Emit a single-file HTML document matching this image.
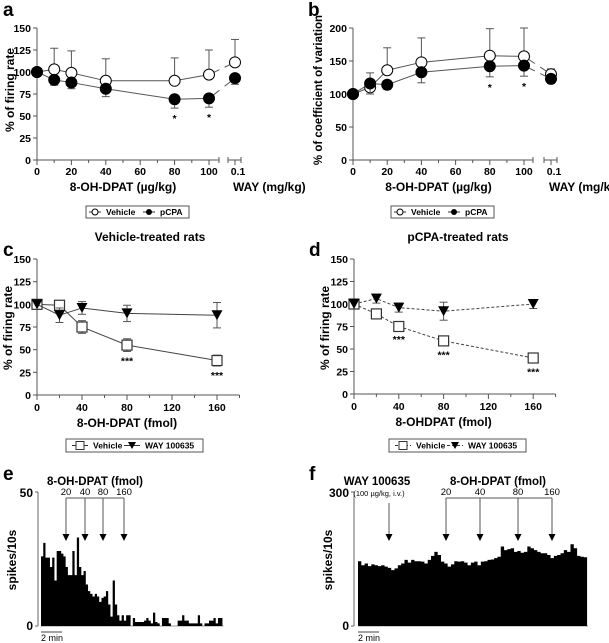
<!DOCTYPE html>
<html><head><meta charset="utf-8"><style>
body{margin:0;background:#fff}
svg{display:block;font-family:"Liberation Sans",Arial,sans-serif}
.t{font-size:10.5px;font-weight:bold}
.ttl{font-size:12px;font-weight:bold}
.let{font-size:19px;font-weight:bold}
</style></head><body>
<svg id="fig" width="609" height="643" viewBox="0 0 609 643"></svg>
<script>
// Panel a: firing rate
const aDoses=[0,10,20,40,80,100];
const aVeh=[100,103,99,90,90,97];
const aVehErr=[0,24,25,25,26,28];
const aVehWay=111, aVehWayErr=26;
const aPcpa=[100,91,88,81,69,70];
const aPcpaErr=[0,6,7,9,10,10];
const aPcpaWay=93, aPcpaWayErr=7;
const aStars=[80,100];
// Panel b: coefficient of variation
const bVeh=[100,110,136,148,158,157];
const bVehErr=[0,0,34,37,41,43];
const bVehWay=130, bVehWayErr=8;
const bPcpa=[100,116,114,133,142,143];
const bPcpaErr=[0,16,7,16,16,16];
const bPcpaWay=123, bPcpaWayErr=7;
const bStars=[80,100];
// Panel c / d
const cdDoses=[0,20,40,80,160];
const cVeh=[100,99,75,55,38];
const cVehErr=[0,5,7,7,6];
const cWay=[100,88,96,90,88];
const cWayErr=[0,8,7,9,14];
const cStars=[80,160];
const dVeh=[100,89,75,59,40];
const dVehErr=[0,2,4,5,5];
const dWay=[100,106,96,92,100];
const dWayErr=[0,5,5,10,5];
const dStars=[40,80,160];
const cdTicks=[0,40,80,120,160];
const yTicks150=[0,25,50,75,100,125,150];
// Panel e histogram (spikes/10s)
const eCounts=[26,31,25.5,25.5,22,25.5,17,28,28,27,26,22,19,19,28,19,33,22,19,20.5,15.5,13,12,11,12,11,9,10.5,11,13,8,3.5,17,8,4,2,4,2,4,4,0,3,1.5,1.5,1.5,1.5,2,3,2,1,5,1.5,1,0,3,3,3,1,0,0,0,2,2,4,2,2,1,1,1,1,4,1,0,1,1,2,2,3,1,3,3];
const eArrows=["20","40","80","160"];
// Panel f histogram
const fCounts=[145,136,140,134,138,136,134,136,133,130,125,129,136,140,148,142,148,145,145,144,140,148,157,166,159,144,140,133,138,145,144,145,142,136,142,144,136,144,145,148,149,152,155,178,170,172,174,166,168,164,166,178,174,170,166,163,163,159,152,157,159,163,170,166,183,174,157,155,154];
const fArrows=["20","40","80","160"];

const svg=document.getElementById('fig');
const NS='http://www.w3.org/2000/svg';
function mk(tag,attrs,parent){const e=document.createElementNS(NS,tag);for(const k in attrs)e.setAttribute(k,attrs[k]);(parent||svg).appendChild(e);return e;}
function txt(x,y,s,cls,anchor,parent,fs,fw){const e=mk('text',{x:x,y:y,class:cls||'t','text-anchor':anchor||'middle'},parent);e.textContent=s;if(fs)e.style.fontSize=fs+'px';if(fw)e.style.fontWeight=fw;return e;}
function line(x1,y1,x2,y2,p,extra){const a={x1:x1,y1:y1,x2:x2,y2:y2,stroke:'#333','stroke-width':1};Object.assign(a,extra||{});return mk('line',a,p);}
function group(name){const g=mk('g',{});return g;}
function circle(x,y,filled,p){return mk('circle',{cx:x,cy:y,r:5.5,fill:filled?'#000':'#fff',stroke:'#000','stroke-width':1},p);}
function square(x,y,p){return mk('rect',{x:x-5,y:y-5,width:10,height:10,fill:'#fff',stroke:'#333','stroke-width':1.2},p);}
function tri(x,y,p){return mk('path',{d:`M${x-5.5},${y-5}L${x+5.5},${y-5}L${x},${y+5}Z`,fill:'#000'},p);}
function errbar(x,y1,y2,p){line(x,y1,x,y2,p,{stroke:'#555'});line(x-4,y2,x+4,y2,p,{stroke:'#555'});}
function yAxis(g,x,ticks,ys,top,bottom,title,tx,ty,fs){
  line(x,top,x,bottom,g,{stroke:'#555'});
  ticks.forEach(t=>{line(x-4,ys(t),x,ys(t),g,{stroke:'#555'});txt(x-6,ys(t)+4,String(t),'t','end',g);});
  const tt=txt(tx,ty,title,'ttl','middle',g,fs);tt.setAttribute('transform',`rotate(-90 ${tx} ${ty})`);
}
function legend(g,x,y,w,h,items){
  mk('rect',{x:x,y:y,width:w,height:h,fill:'#fff',stroke:'#555','stroke-width':1},g);
  items.forEach(it=>{
    const cy=y+h/2;line(it.x-it.hw,cy,it.x+it.hw,cy,g,{stroke:'#333','stroke-dasharray':it.dash||''});
    it.sym(it.x,cy);txt(it.x+it.hw+5,cy+3,it.label,'t','start',g,8.5);
  });
}

// ---------- Panels a & b ----------
function panelAB(o){
  const g=group(o.name);
  txt(o.letX,16,o.letter,'let','start',g);
  yAxis(g,o.x0,o.yt,o.ys,o.ys(o.yt[o.yt.length-1]),o.ys(0),o.ytitle,o.ytx,o.yty,o.yfs);
  const by=o.ys(0);
  line(o.x0,by,o.axEnd,by,g,{stroke:'#555'});
  for(let v=0;v<=110;v+=10){const X=o.xs(v);if(X<=o.axEnd+0.5)line(X,by,X,by+(v%20===0?5:3),g,{stroke:'#555'});}
  line(o.axEnd,by-3,o.axEnd,by+3,g,{stroke:'#555'});
  line(o.wayX-7,by,o.wayX+6,by,g,{stroke:'#555'});
  line(o.wayX-7,by-3,o.wayX-7,by+3,g,{stroke:'#555'});line(o.wayX,by,o.wayX,by+5,g,{stroke:'#555'});line(o.wayX+6,by-3,o.wayX+6,by+3,g,{stroke:'#555'});
  [0,20,40,60,80,100].forEach(v=>txt(o.xs(v),by+15,String(v),'t','middle',g));
  txt(o.wayX+3,by+15,'0.1','t','middle',g);
  txt(o.xs(50),by+31,'8-OH-DPAT (µg/kg)','ttl','middle',g);
  txt(o.wayX-2,by+31,'WAY (mg/kg)','ttl','start',g);
  const series=[{v:o.veh,e:o.vehErr,w:o.vehWay,we:o.vehWayErr,f:false,up:true},{v:o.pc,e:o.pcErr,w:o.pcWay,we:o.pcWayErr,f:true,up:false}];
  series.forEach((s,si)=>{
    const sg=group(si?'pcpa-series':'vehicle-series');g.appendChild(sg);
    const pts=aDoses.map((d,i)=>[o.xs(d),o.ys(s.v[i])]);
    mk('polyline',{points:pts.map(p=>p.join(',')).join(' '),fill:'none',stroke:'#555','stroke-width':1},sg);
    const last=pts[pts.length-1],wp=[o.wayX,o.ys(s.w)];
    const mx=(last[0]+wp[0])/2,my=(last[1]+wp[1])/2,dx=wp[0]-last[0],dy=wp[1]-last[1];
    line(last[0],last[1],mx-dx*0.1,my-dy*0.1,sg,{stroke:'#555'});line(mx+dx*0.1,my+dy*0.1,wp[0],wp[1],sg,{stroke:'#555'});
    aDoses.forEach((d,i)=>{if(s.e[i]>0)errbar(o.xs(d),o.ys(s.v[i]),o.ys(s.v[i]+(s.up?s.e[i]:-s.e[i])),sg);});
    if(si===1&&o.pcUpErr)o.pcUpErr.forEach((e,i)=>{if(e>0)errbar(o.xs(aDoses[i]),o.ys(s.v[i]),o.ys(s.v[i]+e),sg);});
    errbar(o.wayX,wp[1],o.ys(s.w+(s.up?s.we:-s.we)),sg);
    pts.forEach(p=>circle(p[0],p[1],s.f,sg));circle(wp[0],wp[1],s.f,sg);
  });
  o.stars.forEach(d=>{const i=aDoses.indexOf(d);txt(o.xs(d),o.ys(o.pc[i]-o.pcErr[i])+14,'*','t','middle',g);});
  legend(g,o.legX,206,103,12,[{x:o.legX+9,hw:6,label:'Vehicle',sym:(x,y)=>mk('circle',{cx:x,cy:y,r:3,fill:'#fff',stroke:'#000'},g)},{x:o.legX+63,hw:6,label:'pCPA',sym:(x,y)=>mk('circle',{cx:x,cy:y,r:3,fill:'#000'},g)}]);
}
panelAB({name:'panel-a',letter:'a',letX:3,x0:37,xs:v=>37+v*1.72,ys:v=>160-v*0.88,yt:[0,25,50,75,100,125,150],axEnd:219,wayX:235,ytx:14,yty:90,
  ytitle:'% of firing rate',veh:aVeh,vehErr:aVehErr,vehWay:aVehWay,vehWayErr:aVehWayErr,pc:aPcpa,pcErr:aPcpaErr,pcWay:aPcpaWay,pcWayErr:aPcpaWayErr,stars:aStars,legX:86});
panelAB({name:'panel-b',letter:'b',letX:308,x0:353,xs:v=>353+v*1.71,ys:v=>160-v*0.66,yt:[0,50,100,150,200],axEnd:533,wayX:551,ytx:322,yty:90,yfs:11.5,
  ytitle:'% of coefficient of variation',veh:bVeh,vehErr:bVehErr,vehWay:bVehWay,vehWayErr:bVehWayErr,pc:bPcpa,pcErr:bPcpaErr,pcWay:bPcpaWay,pcWayErr:bPcpaWayErr,stars:bStars,legX:391,
  pcUpErr:[0,16,0,0,0,0]});

// ---------- Panels c & d ----------
function panelCD(o){
  const g=group(o.name);
  txt(o.letX,256,o.letter,'let','start',g);
  txt(o.titleX,241,o.title,'ttl','middle',g);
  yAxis(g,o.x0,yTicks150,o.ys,o.ys(150),o.ys(0),'% of firing rate',o.x0-25,328);
  const by=o.ys(0);
  line(o.x0,by,o.xs(180),by,g,{stroke:'#555'});
  for(let v=0;v<=180;v+=20)line(o.xs(v),by,o.xs(v),by+(v%40===0?5:3),g,{stroke:'#555'});
  cdTicks.forEach(v=>txt(o.xs(v),by+16,String(v),'t','middle',g));
  txt(o.xs(80),by+32,o.xtitle,'ttl','middle',g);
  const dash=o.dash?'3,2':'';
  const sv=[{v:o.veh,e:o.vehErr,n:'vehicle-series',sym:square},{v:o.way,e:o.wayErr,n:'way-series',sym:tri}];
  sv.forEach(s=>{
    const sg=group(s.n);g.appendChild(sg);
    const pts=cdDoses.map((d,i)=>[o.xs(d),o.ys(s.v[i])]);
    mk('polyline',{points:pts.map(p=>p.join(',')).join(' '),fill:'none',stroke:'#444','stroke-width':1,'stroke-dasharray':dash},sg);
    cdDoses.forEach((d,i)=>{if(s.e[i]>0){errbar(o.xs(d),o.ys(s.v[i]),o.ys(s.v[i]+s.e[i]),sg);errbar(o.xs(d),o.ys(s.v[i]),o.ys(s.v[i]-s.e[i]),sg);}});
    pts.forEach(p=>s.sym(p[0],p[1],sg));
  });
  o.stars.forEach(d=>{const i=cdDoses.indexOf(d);txt(o.xs(d),o.ys(o.veh[i]-o.vehErr[i])+13,'***','t','middle',g);});
  legend(g,o.legX,439,137,13,[{x:o.legX+14,hw:8,label:'Vehicle',dash:dash,sym:(x,y)=>mk('rect',{x:x-4,y:y-4,width:8,height:8,fill:'#fff',stroke:'#333'},g)},
    {x:o.legX+66,hw:8,label:'WAY 100635',dash:dash,sym:(x,y)=>mk('path',{d:`M${x-4},${y-3.5}L${x+4},${y-3.5}L${x},${y+3.5}Z`,fill:'#000'},g)}]);
}
panelCD({name:'panel-c',letter:'c',letX:3,title:'Vehicle-treated rats',titleX:150,x0:37,xs:v=>37+v*1.125,ys:v=>395-v*136/150,xtitle:'8-OH-DPAT (fmol)',veh:cVeh,vehErr:cVehErr,way:cWay,wayErr:cWayErr,stars:cStars,legX:66,dash:false});
panelCD({name:'panel-d',letter:'d',letX:309,title:'pCPA-treated rats',titleX:458,x0:354,xs:v=>354+v*1.12,ys:v=>394-v*135/150,xtitle:'8-OHDPAT (fmol)',veh:dVeh,vehErr:dVehErr,way:dWay,wayErr:dWayErr,stars:dStars,legX:389,dash:true});

// ---------- Panels e & f ----------
function hist(o){
  const g=group(o.name);
  txt(o.letX,480,o.letter,'let','start',g);
  const ys=v=>626-v*134/o.max;
  line(o.x0,492,o.x0,626,g,{stroke:'#666'});
  line(o.x0-3,492,o.x0,492,g,{stroke:'#666'});line(o.x0-3,626,o.x0,626,g,{stroke:'#666'});
  txt(o.x0-5,497,String(o.max),'ttl','end',g);txt(o.x0-5,630,'0','ttl','end',g);
  const yt=txt(o.x0-22,560,'spikes/10s','ttl','middle',g);yt.setAttribute('transform',`rotate(-90 ${o.x0-22} 560)`);
  line(o.bx,626,o.bx+o.counts.length*o.bw+1,626,g,{stroke:'#999'});
  let d=`M${o.bx},626`;
  o.counts.forEach((c,i)=>{const x=o.bx+i*o.bw;d+=`L${x},${ys(c)}L${x+o.bw},${ys(c)}`;});
  d+=`L${o.bx+o.counts.length*o.bw},626Z`;
  const p=mk('path',{d:d,fill:'#000'},g);
  line(o.bx,632,o.bx+21,632,g,{stroke:'#444'});
  txt(o.bx,641,'2 min','t','start',g,9,'normal');
  return g;
}
function arrows(g,xs,labels,titleX){
  txt(titleX,485,'8-OH-DPAT (fmol)','ttl','middle',g,11.5);
  line(xs[0],498,xs[xs.length-1],498,g,{stroke:'#555'});
  xs.forEach((x,i)=>{txt(x,495,labels[i],'t','middle',g,9.5,'normal');
    line(x,498,x,535,g,{stroke:'#555'});mk('path',{d:`M${x-3.5},534L${x+3.5},534L${x},541Z`,fill:'#000'},g);});
}
const ge=hist({name:'panel-e',letter:'e',letX:3,x0:38,max:50,counts:eCounts,bx:41,bw:2.24});
arrows(ge,[66,85,103,124],eArrows,95);
const gf=hist({name:'panel-f',letter:'f',letX:309,x0:354,max:300,counts:fCounts,bx:358,bw:3.32});
arrows(gf,[446,480,518,552],fArrows,498);
txt(377,485,'WAY 100635','ttl','middle',gf,11.5);
txt(379,496,'(100 µg/kg, i.v.)','t','middle',gf,7.5,'normal');
line(389,503,389,535,gf,{stroke:'#555'});mk('path',{d:'M385.5,534L392.5,534L389,541Z',fill:'#000'},gf);
</script>
</body></html>
